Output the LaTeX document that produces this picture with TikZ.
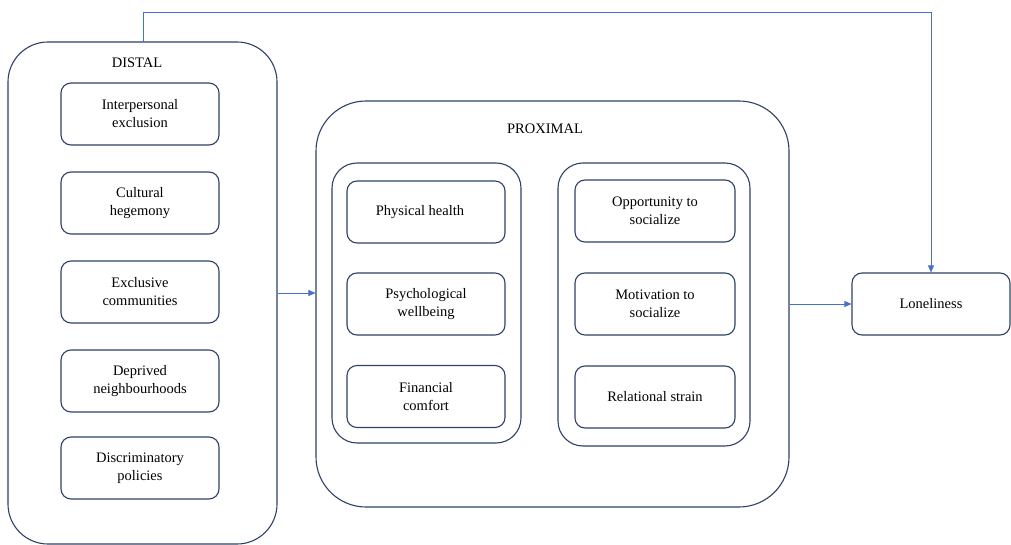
\documentclass[tikz,border=0pt]{standalone}
\usepackage{fontspec}
\setmainfont{Liberation Serif}
\usetikzlibrary{arrows.meta,calc}
\definecolor{boxc}{HTML}{2E4166}
\definecolor{arrc}{HTML}{4472C4}
\tikzset{
  item/.style={draw=boxc, line width=1.1pt, rounded corners=10pt, minimum width=158pt, minimum height=62pt, align=center, font=\fontsize{14.5pt}{18pt}\selectfont, inner sep=0pt},
  group/.style={draw=boxc, line width=1.1pt, inner sep=0pt},
  lbl/.style={font=\fontsize{14.5pt}{18pt}\selectfont},
  arr/.style={draw=arrc, line width=0.7pt, -{Triangle[length=7pt,width=6pt]}},
}
\begin{document}
\begin{tikzpicture}[x=1pt,y=-1pt]
\useasboundingbox (0,0) rectangle (1011,545);
% distal
\node[group, rounded corners=40pt, minimum width=269pt, minimum height=502pt] (distal) at (142.5,293) {};
\node[lbl] (distlbl) at (137,63) {DISTAL};
\node[item] (d1) at (140,114) {Interpersonal\\exclusion};
\node[item] (d2) at (140,203) {Cultural\\hegemony};
\node[item] (d3) at (140,292) {Exclusive\\communities};
\node[item] (d4) at (140,381) {Deprived\\neighbourhoods};
\node[item] (d5) at (140,468) {Discriminatory\\policies};
% proximal
\node[group, rounded corners=50pt, minimum width=473pt, minimum height=406pt] (prox) at (552.5,304) {};
\node[lbl] (proxlbl) at (545,129) {PROXIMAL};
\node[group, rounded corners=25pt, minimum width=189pt, minimum height=280pt] (gl) at (426.5,303) {};
\node[group, rounded corners=25pt, minimum width=192pt, minimum height=283pt] (gr) at (654,304.5) {};
\node[item] (p1) at (426,212) {\hspace*{-12pt}Physical health};
\node[item] (p2) at (426,304) {Psychological\\wellbeing};
\node[item] (p3) at (426,396.5) {Financial\\comfort};
\node[item, minimum width=160pt] (q1) at (655,211) {Opportunity to\\socialize};
\node[item, minimum width=160pt] (q2) at (655,304) {Motivation to\\socialize};
\node[item, minimum width=160pt] (q3) at (655,397) {Relational strain};
% outcome
\node[item] (lone) at (931,304) {Loneliness};
% connectors
\draw[arr] (distal.east |- 0,293) -- (prox.west |- 0,293);
\draw[arr] (prox.east) -- (lone.west);
\coordinate (top) at (143,42);
\draw[arr] (top) -- ++(0,-30) -| (lone.north);
\end{tikzpicture}
\end{document}
